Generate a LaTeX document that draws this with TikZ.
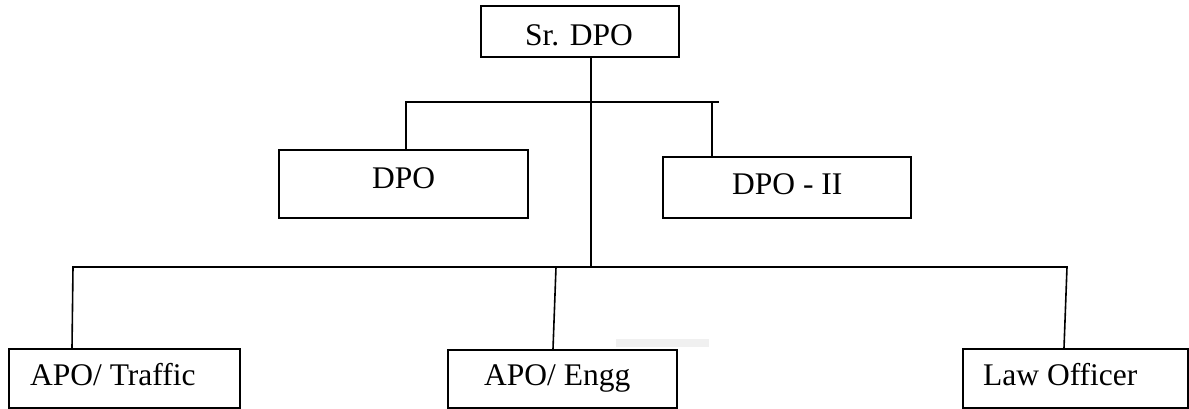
\documentclass[tikz,border=0pt]{standalone}
\usepackage{fontspec}
\setmainfont{Liberation Serif}
\begin{document}
\begin{tikzpicture}[x=1pt,y=-1pt,
  boxnode/.style={draw=black,line width=1.6pt,anchor=north west,inner sep=0pt},
  lbl/.style={anchor=base west,inner sep=0pt,font=\fontsize{31.5}{36}\selectfont},
  conn/.style={line width=1.6pt,line cap=rect}]
\useasboundingbox (0,0) rectangle (1189,408);
% boxes
\node[boxnode,minimum width=198pt,minimum height=51pt] (sr) at (480,5) {};
\node[boxnode,minimum width=249pt,minimum height=68pt] (dpo) at (278,149) {};
\node[boxnode,minimum width=248pt,minimum height=61pt] (dpo2) at (662,156) {};
\node[boxnode,minimum width=231pt,minimum height=59pt] (traffic) at (8,348) {};
\node[boxnode,minimum width=229pt,minimum height=58pt] (engg) at (447,349) {};
\node[boxnode,minimum width=225pt,minimum height=59pt] (law) at (962,348) {};
% labels
\node[lbl] (srt) at (525,45) {Sr. DPO};
\node[lbl] (dpot) at (372,188) {DPO};
\node[lbl] (dpo2t) at (732,194) {DPO - II};
\node[lbl] (traffict) at (30,385) {APO/ Traffic};
\node[lbl] (enggt) at (484,385) {APO/ Engg};
\node[lbl] (lawt) at (983,385) {Law Officer};
% faint artifact
\fill[gray!12] (616,339) rectangle (709,347);
% junction coordinates
\coordinate (t1) at (406,102);
\coordinate (t2) at (718,102);
\coordinate (t3) at (712,102);
\coordinate (trunk) at (591,267);
\coordinate (b1) at (73,267);
\coordinate (b2) at (556,267);
\coordinate (b3) at (1067,267);
% connectors
\draw[conn] (sr.south -| trunk) -- (trunk);
\draw[conn] (t1) -- (t2);
\draw[conn] (t1) -- (t1 |- dpo.north);
\draw[conn] (t3) -- (t3 |- dpo2.north);
\draw[conn] (b1) -- (b3);
\draw[line width=2.4pt] (675,267) -- (798,267);
\draw[conn] (b1) -- (72,348 |- traffic.north);
\draw[conn] (b2) -- (553,349 |- engg.north);
\draw[conn] (b3) -- (1064,348 |- law.north);
\end{tikzpicture}
\end{document}
